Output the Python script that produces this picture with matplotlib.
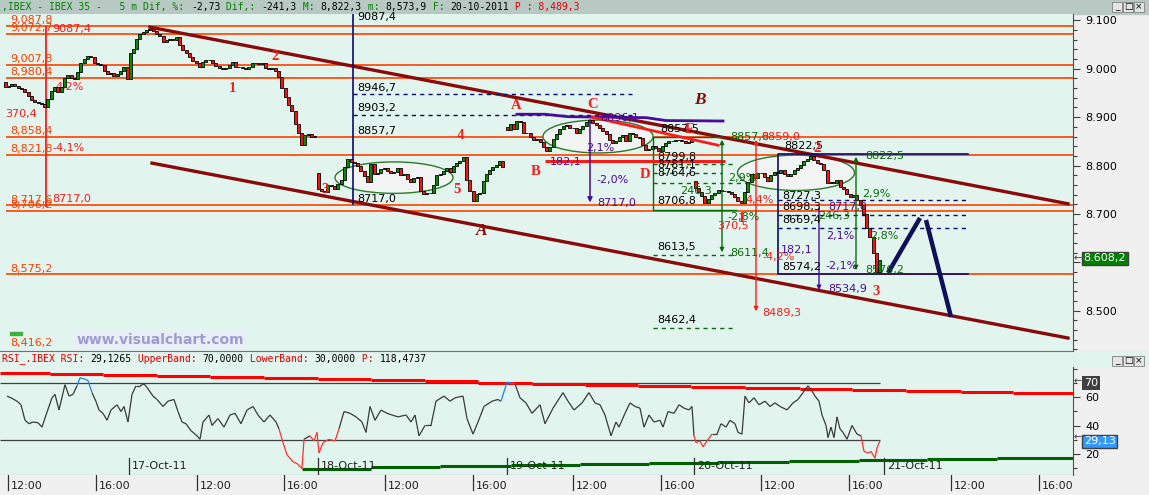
import numpy as np
import matplotlib
matplotlib.use("Agg")
import matplotlib.pyplot as plt
from matplotlib.patches import Rectangle, Ellipse
from matplotlib.collections import LineCollection
from matplotlib.ticker import FuncFormatter, MultipleLocator

# ---------------- data ----------------
# 5 min bars, one list of closes per session, x = bar slot on the time axis
session_start = [5, 130, 318, 507, 695]
session_open = [8972, 8978, 8784, 8880, 8768]
BAR_STEP = 3.3

closes_oct14 = [8962, 8964, 8968, 8965, 8961, 8958, 8953, 8943, 8935, 8932,
                8929, 8928, 8922, 8938, 8955, 8962, 8953, 8962, 8980, 8988,
                8980, 8978, 8994, 9012, 9020, 9027, 9024, 9012, 9009, 9008,
                8995, 8990, 8992, 8986, 8990, 8996, 9003, 8978]
closes_oct17 = [9032, 9040, 9062, 9072, 9076, 9080, 9082, 9079, 9072, 9068,
                9055, 9059, 9061, 9060, 9065, 9050, 9038, 9033, 9024, 9017,
                9012, 9003, 9013, 9018, 9019, 9011, 9006, 9002, 9000, 9001,
                9008, 9013, 9003, 9004, 9001, 9000, 9003, 9011, 9012, 9010,
                9011, 9001, 9000, 9002, 8996, 8982, 8960, 8942, 8925, 8912,
                8885, 8868, 8843, 8864, 8866, 8858, 8862]
closes_oct18 = [8752, 8748, 8746, 8760, 8758, 8752, 8762, 8770, 8796, 8814,
                8808, 8805, 8800, 8789, 8778, 8765, 8804, 8782, 8785, 8792,
                8795, 8788, 8785, 8786, 8795, 8781, 8782, 8773, 8766, 8775,
                8776, 8748, 8742, 8744, 8743, 8760, 8781, 8783, 8788, 8795,
                8787, 8800, 8806, 8809, 8818, 8770, 8748, 8727, 8742, 8744,
                8769, 8783, 8791, 8797, 8802, 8810, 8797]
closes_oct19 = [8874, 8885, 8876, 8893, 8889, 8868, 8868, 8860, 8852, 8854,
                8848, 8839, 8831, 8839, 8854, 8865, 8876, 8882, 8883, 8878,
                8878, 8868, 8876, 8882, 8889, 8894, 8887, 8883, 8878, 8872,
                8866, 8853, 8846, 8850, 8858, 8864, 8850, 8868, 8866, 8860,
                8856, 8842, 8833, 8835, 8841, 8837, 8831, 8841, 8846, 8850,
                8850, 8852, 8852, 8850, 8846, 8848, 8854]
closes_oct20 = [8754, 8746, 8738, 8723, 8730, 8740, 8744, 8750, 8748, 8747,
                8746, 8742, 8735, 8726, 8723, 8745, 8765, 8783, 8774, 8785,
                8784, 8777, 8769, 8781, 8787, 8785, 8790, 8782, 8779, 8782,
                8790, 8794, 8801, 8809, 8814, 8820, 8811, 8806, 8803, 8790,
                8764, 8766, 8764, 8771, 8756, 8751, 8742, 8735, 8740, 8729,
                8719, 8700, 8671, 8652, 8620, 8580, 8605]
sessions = [closes_oct14, closes_oct17, closes_oct18, closes_oct19, closes_oct20]

# RSI readings
rsi_x = [7, 11, 17, 21, 25, 29, 33, 38, 42, 46, 52, 55, 59, 65, 69, 73, 77, 80, 84, 88,
         92, 96, 99, 103, 107, 111, 117, 121, 124, 128, 132, 136, 140, 144, 147, 153, 157, 163, 168, 174,
         178, 182, 186, 191, 197, 200, 203, 209, 212, 218, 224, 230, 235, 241, 247, 253, 258, 264, 270, 276,
         279, 283, 287, 293, 297, 302, 304, 310, 314, 317, 319, 323, 329, 335, 339, 344, 350, 356, 362, 366,
         370, 375, 381, 387, 392, 398, 406, 411, 415, 419, 425, 431, 436, 444, 450, 455, 463, 467, 473, 478,
         484, 492, 498, 501, 507, 515, 520, 526, 532, 540, 545, 553, 563, 568, 574, 582, 589, 595,
         600, 605, 611, 616, 619, 625, 630, 635, 640, 644, 649, 654, 660, 663, 668, 674, 679, 684, 689, 692,
         694, 696, 700, 703, 707, 712, 717, 721, 726, 730, 735, 738, 742, 745, 749, 754, 759, 765, 770, 775,
         780, 787, 793, 798, 803, 808, 812, 815, 819, 822, 826, 828, 831, 834, 837, 840, 843, 847, 852, 857,
         861, 864, 868, 871, 875, 877, 880]
rsi_vals = [60.8, 59.6, 57.2, 54.7, 43.8, 41.4, 42.6, 42.1, 39.0, 47.5, 59.6, 62.0, 51.0, 68.8, 60.8, 62.0, 68.0, 73.6, 72.9, 71.7,
            63.2, 57.0, 51.0, 48.7, 43.8, 51.0, 54.7, 49.9, 53.5, 42.6, 62.0, 68.0, 68.0, 69.3, 66.8, 60.8, 58.4, 53.5, 57.2, 58.4,
            49.9, 42.6, 41.4, 36.5, 32.9, 30.5, 42.6, 47.5, 40.2, 45.0, 39.0, 47.5, 48.7, 41.4, 51.0, 53.5, 47.5, 42.6, 47.5, 42.6,
            37.8, 28.1, 19.6, 14.7, 13.5, 9.9, 30.5, 32.9, 29.3, 35.3, 20.8, 28.1, 30.5, 29.3, 37.8, 49.9, 48.7, 46.2, 42.6, 35.3,
            53.5, 43.8, 51.0, 48.7, 47.5, 46.2, 47.5, 42.6, 47.5, 32.9, 40.2, 40.2, 57.2, 60.8, 57.2, 59.6, 60.8, 45.0, 34.1, 42.6,
            53.5, 57.2, 58.4, 57.2, 70.5, 69.3, 59.6, 56.0, 48.7, 54.7, 41.4, 52.3, 63.2, 57.2, 51.0, 56.0, 63.2, 56.0,
            54.7, 47.5, 32.9, 42.6, 39.0, 48.7, 56.0, 53.5, 52.3, 39.0, 47.5, 42.6, 43.8, 39.0, 49.9, 48.7, 54.7, 52.3, 51.1, 53.5,
            32.9, 28.1, 29.3, 25.2, 29.3, 34.1, 34.1, 41.4, 39.0, 43.8, 41.4, 35.3, 34.1, 60.8, 56.0, 59.6, 54.7, 57.2, 53.5, 56.0,
            53.5, 51.1, 56.0, 58.4, 63.2, 68.0, 64.4, 60.8, 57.2, 47.5, 40.2, 31.7, 39.0, 31.7, 46.2, 37.8, 35.3, 30.5, 40.2, 34.1,
            32.9, 22.0, 20.8, 22.0, 17.2, 24.4, 29.3]

upper_band_edges = [0, 50, 103, 157, 210, 264, 318, 371, 425, 478, 532, 585, 638, 691, 745, 800, 852, 906, 961, 1013, 1073]
upper_band = [77.1, 76.3, 75.6, 74.8, 74.1, 73.3, 72.6, 71.8, 71.1, 70.3, 69.6, 68.9, 68.2, 67.5, 66.8, 66.1, 65.4, 64.7, 64.0, 63.3]
lower_band_edges = [302, 371, 440, 511, 580, 649, 719, 789, 859, 927, 997, 1073]
lower_band = [9.9, 10.8, 11.6, 12.4, 13.3, 14.0, 14.7, 15.4, 16.1, 16.7, 17.3]

# horizontal price levels drawn on the chart
level_prices = [9087.8, 9072.7, 9007.8, 8980.4, 8858.4, 8821.8, 8717.6, 8706.2, 8575.2]
level_labels = ["9,087,8", "9,072,7", "9,007,8", "8,980,4", "8,858,4", "8,821,8", "8,717,6", "8,706,2", "8,575,2"]

time_tick_x = [8, 96, 197, 284, 385, 473, 573, 661, 761, 849, 951, 1039]
time_tick_labels = ["12:00", "16:00"] * 6
date_tick_x = [129, 318, 507, 694, 884]
date_tick_labels = ["17-Oct-11", "18-Oct-11", "19-Oct-11", "20-Oct-11", "21-Oct-11"]

last_price = 8608.2
last_rsi = 29.13

# ---------------- layout ----------------
W, H = 1149, 495
BG = "#e1f4ee"
ORANGE = "#ff4000"
NAVY = "#0c0c6e"
PURPLE = "#4a0a9a"
DKGREEN = "#0a6a0a"
RED = "#ff1a1a"
MAROON = "#8a0a0a"


def px_box(x0, y0, x1, y1):
    return [x0 / W, 1 - y1 / H, (x1 - x0) / W, (y1 - y0) / H]


def fxy(x, y):
    return x / W, 1 - y / H


plt.rcParams["font.family"] = ["DejaVu Sans"]
fig = plt.figure(figsize=(W / 100, H / 100), dpi=100)
fig.patch.set_facecolor("#f0f0f0")

# header bars
fig.add_artist(Rectangle(fxy(0, 14), 1, 14 / H, transform=fig.transFigure, color="#b8c9c3", zorder=0))
fig.add_artist(Rectangle(fxy(0, 367), 1, 16 / H, transform=fig.transFigure, color=BG, zorder=0))

ax = fig.add_axes(px_box(0, 14, 1073, 351))
ax_r = fig.add_axes(px_box(0, 367, 1073, 475), sharex=ax)
ax_t = fig.add_axes(px_box(0, 475, 1073, 495), sharex=ax)

for a in (ax, ax_r):
    a.set_facecolor(BG)
    for s in ("top", "left"):
        a.spines[s].set_visible(False)
    a.spines["right"].set_color("#505050")
    a.spines["bottom"].set_color("#707070")
    a.tick_params(axis="x", bottom=False, labelbottom=False)
    a.yaxis.tick_right()
    a.tick_params(axis="y", which="major", direction="out", length=5, width=0.8,
                  color="#404040", labelsize=8, pad=4)
    a.tick_params(axis="y", which="minor", direction="out", length=3, width=0.8, color="#404040")

ax.set_xlim(0, 1073)
ax.set_ylim(8416.7, 9113.2)
ax.yaxis.set_major_locator(MultipleLocator(100))
ax.yaxis.set_minor_locator(MultipleLocator(20))
ax.yaxis.set_major_formatter(FuncFormatter(lambda v, p: f"{v / 1000:.3f}"))

# ---------------- price panel ----------------
ax.hlines(level_prices, 6, 1073, color=ORANGE, lw=1.2, zorder=2)
for pr, lab in zip(level_prices, level_labels):
    ax.text(10, pr + 12, lab, color=ORANGE, fontsize=8, va="center", zorder=6)
ax.text(10, 8433, "8,416,2", color=ORANGE, fontsize=8, va="center")
ax.text(52, 9082, "9087,4", color=RED, fontsize=8, va="center")
ax.text(52, 8836, "-4,1%", color=RED, fontsize=8, va="center")
ax.text(52, 8730, "8717,0", color=RED, fontsize=8, va="center")
ax.text(5, 8907, "370,4", color=RED, fontsize=8, va="center")
ax.text(55, 8962, "4,2%", color=RED, fontsize=8, va="center")
ax.vlines(46, 8714, 9087.8, color=RED, lw=1.3, zorder=3)
ax.add_patch(Rectangle((10, 8450), 12, 6, color="#3cb03c", zorder=3))

# ellipses behind candles
for cx, cy, w, h in [(394, 8775, 118, 65), (598, 8860, 110, 68), (796, 8785, 117, 73)]:
    ax.add_patch(Ellipse((cx, cy), w, h, facecolor="#f2f4f3", edgecolor="#2a7a2a", lw=1.0, zorder=3))

# candles
for x0, op0, closes in zip(session_start, session_open, sessions):
    c = np.array(closes, dtype=float)
    o = np.concatenate([[op0], c[:-1]])
    xs = x0 + BAR_STEP * np.arange(len(c))
    cols = np.where(c >= o, "#009000", "#ff1010")
    ax.bar(xs, c - o, bottom=o, width=3.0, color=cols, edgecolor="black", linewidth=0.6, zorder=5)

# channel
ax.plot([150, 1068], [9086, 8721], color=MAROON, lw=2.4, zorder=4)
ax.plot([152, 1068], [8805, 8443.5], color=MAROON, lw=2.4, zorder=4)

# retracement tool on 18-Oct
ax.vlines(353, 8718, 9113.2, color=NAVY, lw=1.2, zorder=4)
ax.hlines([8947.9, 8904.4], 353, 632, color=NAVY, lw=1.0, linestyles=(0, (3, 3)), zorder=4)
for py, t in [(9107, "9087,4"), (8960.3, "8946,7"), (8918.9, "8903,2"), (8871.4, "8857,7"), (8730, "8717,0")]:
    ax.text(357, py, t, color="black", fontsize=8, va="center", zorder=6)

# purple / red lines around C
ax.plot([517, 545, 568, 646, 666, 723], [8906, 8906, 8901, 8899, 8893, 8892], color=PURPLE, lw=2, zorder=4)
ax.plot([592, 718], [8900, 8842], color=RED, lw=2, zorder=6)
ax.hlines(8809, 545, 725, color=RED, lw=2.2, zorder=6)
ax.annotate("", xy=(590, 8718), xytext=(590, 8900),
            arrowprops=dict(arrowstyle="-|>", color=PURPLE, lw=1.1, mutation_scale=7), zorder=6)
for x, py, t in [(600, 8898, "8896,1"), (586, 8836, "2,1%"), (596, 8770, "-2,0%"),
                 (597, 8722, "8717,0"), (550, 8807, "182,1")]:
    ax.text(x, py, t, color=PURPLE, fontsize=8, va="center", zorder=7)

# green measuring box on 19/20-Oct
ax.plot([722, 653, 653, 736], [8859, 8859, 8708, 8708], color=DKGREEN, lw=1.0, zorder=4)
ax.annotate("", xy=(722, 8859), xytext=(722, 8615),
            arrowprops=dict(arrowstyle="<|-|>", color=DKGREEN, lw=1.0, mutation_scale=6), zorder=6)
ax.hlines(8803, 653, 733, color=DKGREEN, lw=1.0, linestyles=(0, (3, 3)), zorder=4)
ax.hlines(8785, 653, 722, color=DKGREEN, lw=1.0, linestyles=(0, (3, 3)), zorder=4)
ax.hlines(8764, 653, 748, color=DKGREEN, lw=1.0, linestyles=(0, (3, 3)), zorder=4)
ax.hlines(8615, 653, 733, color=DKGREEN, lw=1.0, linestyles=(0, (3, 3)), zorder=4)
ax.hlines(8464, 653, 733, color=DKGREEN, lw=1.0, linestyles=(0, (3, 3)), zorder=4)
for x, py, t in [(660, 8876, "8857,5"), (657, 8818, "8799,8"), (657, 8801, "8781,1"), (657, 8785, "8764,6"),
                 (657, 8726, "8706,8"), (657, 8632, "8613,5"), (657, 8481, "8462,4"),
                 (784, 8840, "8822,5"), (782, 8737, "8727,3"), (782, 8714, "8698,3"),
                 (782, 8687, "8669,4"), (782, 8590, "8574,2")]:
    ax.text(x, py, t, color="black", fontsize=8, va="center", zorder=7)
for x, py, t in [(730, 8859, "8857,0"), (728, 8774, "2,9%"), (680, 8748, "246,3"), (727, 8693, "-2,8%"),
                 (730, 8619, "8611,4"), (818, 8696, "246,3"), (865, 8820, "8822,5"), (862, 8741, "2,9%"),
                 (870, 8654, "2,8%"), (865, 8584, "8576,2")]:
    ax.text(x, py, t, color=DKGREEN, fontsize=8, va="center", zorder=7)

# red measure
ax.annotate("", xy=(756, 8859), xytext=(756, 8493),
            arrowprops=dict(arrowstyle="<|-|>", color=RED, lw=1.0, mutation_scale=6), zorder=6)
for x, py, t in [(761, 8859, "8859,0"), (717, 8675, "370,5"), (745, 8729, "4,4%"),
                 (762, 8611, "-4,2%"), (762, 8495, "8489,3")]:
    ax.text(x, py, t, color=RED, fontsize=8, va="center", zorder=7)

# navy box on 20-Oct
ax.plot([968, 778, 778, 968], [8823.9, 8823.9, 8575.8, 8575.8], color=NAVY, lw=1.2, zorder=4)
ax.hlines([8728.8, 8697.8, 8670.9], 778, 968, color=NAVY, lw=1.0, linestyles=(0, (3, 3)), zorder=4)
ax.annotate("", xy=(819, 8537), xytext=(819, 8718),
            arrowprops=dict(arrowstyle="-|>", color=PURPLE, lw=1.0, mutation_scale=6), zorder=6)
for x, py, t in [(828, 8714, "8717,0"), (826, 8654, "2,1%"), (781, 8625, "182,1"),
                 (825, 8592, "-2,1%"), (828, 8545, "8534,9")]:
    ax.text(x, py, t, color=PURPLE, fontsize=8, va="center", zorder=7)
ax.annotate("", xy=(856, 8824), xytext=(856, 8578),
            arrowprops=dict(arrowstyle="<|-|>", color=DKGREEN, lw=1.0, mutation_scale=6), zorder=6)

# projection
ax.plot([888, 920], [8578, 8691.6], color="#10105a", lw=3.2, solid_capstyle="butt", zorder=6)
ax.plot([926, 951], [8687.4, 8487], color="#10105a", lw=3.2, solid_capstyle="butt", zorder=6)

# wave labels
for x, py, t in [(232, 8960, "1"), (275, 9026, "2"), (325, 8750, "3"), (460, 8863, "4"), (457, 8750, "5"),
                 (516, 8925, "A"), (536, 8787, "B"), (593, 8927, "C"), (645, 8782, "D"), (690, 8875, "E"),
                 (876, 8540, "3"), (741, 8690, "1"), (817, 8836, "2")]:
    ax.text(x, py, t, color=RED, fontsize=10.5, fontweight="bold", family="Liberation Serif",
            ha="center", va="center", zorder=8)
for x, py, t in [(700, 8935, "B"), (482, 8665, "A")]:
    ax.text(x, py, t, color=MAROON, fontsize=12.5, fontweight="bold", style="italic",
            family="Liberation Serif", ha="center", va="center", zorder=8)

ax.text(160, 8439.4, "www.visualchart.com", color="#9c9cd0", fontsize=10, fontweight="bold",
        ha="center", va="center", zorder=8,
        bbox=dict(facecolor="#e9edf6", edgecolor="none", pad=1.5))

# ---------------- RSI panel ----------------
ax_r.set_ylim(5.4, 81.2)
ax_r.yaxis.set_major_locator(MultipleLocator(20))
ax_r.yaxis.set_minor_locator(MultipleLocator(10))
ax_r.set_yticks([20, 40, 60])

for i, v in enumerate(upper_band):
    ax_r.hlines(v, upper_band_edges[i], upper_band_edges[i + 1], color="#ff0000", lw=2.2, zorder=3)
for i, v in enumerate(lower_band):
    ax_r.hlines(v, lower_band_edges[i], lower_band_edges[i + 1], color="#006000", lw=2.2, zorder=3)
ax_r.hlines([70, 30], 0, 880, color="#404040", lw=0.9, zorder=2)

rx = np.array(rsi_x, dtype=float)
rv = np.array(rsi_vals)
segs = np.stack([np.column_stack([rx[:-1], rv[:-1]]), np.column_stack([rx[1:], rv[1:]])], axis=1)
seg_cols = []
for a, b in zip(rv[:-1], rv[1:]):
    if min(a, b) < 30:
        seg_cols.append("#ff3030")
    elif max(a, b) > 70:
        seg_cols.append("#2080ff")
    else:
        seg_cols.append("#3a3a3a")
ax_r.add_collection(LineCollection(segs, colors=seg_cols, linewidths=0.9, zorder=4))

for x, lab in zip(date_tick_x, date_tick_labels):
    ax_r.plot([x, x], [0, 0.16], color="#303030", lw=0.9, transform=ax_r.get_xaxis_transform(), zorder=5)
    ax_r.text(x + 3, 0.085, lab, color="#202020", fontsize=8, va="center",
              transform=ax_r.get_xaxis_transform(), clip_on=True, zorder=5)

# time axis strip
ax_t.set_facecolor("#f0f0f0")
ax_t.set_ylim(0, 1)
for s in ax_t.spines.values():
    s.set_visible(False)
ax_t.tick_params(left=False, bottom=False, labelleft=False, labelbottom=False)
for x, lab in zip(time_tick_x, time_tick_labels):
    ax_t.plot([x, x], [0.25, 1.0], color="#303030", lw=0.9)
    ax_t.text(x + 3, 0.45, lab, color="#202020", fontsize=8, va="center", clip_on=True)

# ---------------- headers and axis boxes ----------------
hdr_parts = [(",IBEX - IBEX 35 -   5 m Dif, %: ", "#008000"), ("-2,73", "black"), (" Dif,: ", "#008000"),
             ("-241,3", "black"), (" M: ", "#008000"), ("8,822,3", "black"), (" m: ", "#008000"),
             ("8,573,9", "black"), (" F: ", "#008000"), ("20-10-2011", "black"), (" P : 8,489,3", "#e00000")]
rsi_parts = [("RSI_.IBEX RSI: ", "#e00000"), ("29,1265", "black"), (" UpperBand: ", "#e00000"),
             ("70,0000", "black"), (" LowerBand: ", "#e00000"), ("30,0000", "black"),
             (" P: ", "#e00000"), ("118,4737", "black")]
CHW = 5.9
for parts, ycen in [(hdr_parts, 7), (rsi_parts, 359)]:
    n = 0
    for txt, col in parts:
        fig.text(*fxy(2 + n * CHW, ycen), txt, color=col, fontsize=7.05, family="DejaVu Sans Mono", va="center")
        n += len(txt)

for ytop in (2, 356):
    for k, g in enumerate(["_", "\u25a1", "\u00d7"]):
        x0 = 1112 + k * 11
        fig.add_artist(Rectangle(fxy(x0, ytop + 10), 10 / W, 10 / H, transform=fig.transFigure,
                                 facecolor="#e4e4e4", edgecolor="#808080", lw=0.6))
        fig.text(*fxy(x0 + 5, ytop + 5), g, fontsize=6.5, ha="center", va="center", color="black")

# last price / rsi boxes
fig.text(*fxy(1074, 258), "\u2190", fontsize=7, va="center", color="#404040")
ax.text(1.01, last_price, f"{last_price:,.1f}".replace(",", "X").replace(".", ",").replace("X", "."),
        transform=ax.get_yaxis_transform(), color="white", fontsize=8, va="center", clip_on=False,
        bbox=dict(facecolor="#008000", edgecolor="#404040", pad=1.2), zorder=10)
fig.text(*fxy(1074, 381), "\u2190", fontsize=7, va="center", color="#404040")
ax_r.text(1.01, 70, "70", transform=ax_r.get_yaxis_transform(), color="white", fontsize=8,
          va="center", clip_on=False, bbox=dict(facecolor="#404040", edgecolor="none", pad=1.2), zorder=10)
fig.text(*fxy(1074, 437), "\u2190", fontsize=7, va="center", color="#404040")
ax_r.text(1.01, last_rsi, f"{last_rsi:.2f}".replace(".", ","), transform=ax_r.get_yaxis_transform(),
          color="white", fontsize=8, va="center", clip_on=False,
          bbox=dict(facecolor="#3399ff", edgecolor="#404040", pad=1.2), zorder=10)

fig.savefig("out.png", dpi=100, facecolor=fig.get_facecolor())
